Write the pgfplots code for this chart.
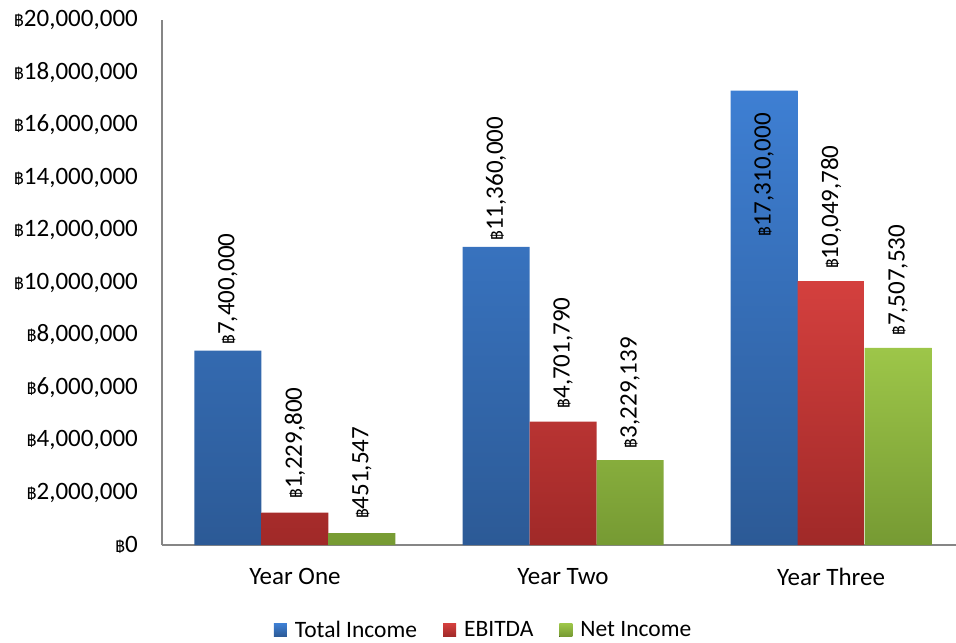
\documentclass[border=0pt]{standalone}
\usepackage{pgfplots}
\pgfplotsset{compat=1.18}
\usepackage{fontspec}
\setmainfont{Carlito}
\newfontfamily\thaifont[Script=Thai]{Loma}
\newcommand\baht{{\thaifont\fontsize{16bp}{16bp}\selectfont ฿}}
\newcommand\cf{\fontsize{25bp}{29bp}\selectfont}
\newcommand\lf{\fontsize{23.5bp}{28bp}\selectfont}
\definecolor{axgray}{HTML}{868686}
\definecolor{blueT}{HTML}{3E7FD3}
\definecolor{blueB}{HTML}{2C5A96}
\definecolor{redT}{HTML}{D4403E}
\definecolor{redB}{HTML}{A02928}
\definecolor{greenT}{HTML}{9DC649}
\definecolor{greenB}{HTML}{769A33}
\begin{document}
\begin{tikzpicture}
\useasboundingbox (-162bp,-98bp) rectangle (794bp,545bp);
\begin{axis}[
  at={(0,0)}, anchor=south west,
  scale only axis, width=794bp, height=525bp,
  xmin=-0.496, xmax=2.466, ymin=0, ymax=20000000,
  separate axis lines,
  axis x line*=bottom, axis y line*=left,
  axis line style={-, axgray, line width=1.5bp},
  major tick length=0pt,
  xtick={0,1,2}, xticklabels={Year One, Year Two, Year Three},
  ytick={0,2000000,4000000,6000000,8000000,10000000,12000000,14000000,16000000,18000000,20000000},
  yticklabels={{\baht0},{\baht2,000,000},{\baht4,000,000},{\baht6,000,000},{\baht8,000,000},{\baht10,000,000},{\baht12,000,000},{\baht14,000,000},{\baht16,000,000},{\baht18,000,000},{\baht20,000,000}},
  scaled y ticks=false,
  yticklabel style={font=\cf, inner sep=0pt, anchor=east, xshift=-24bp},
  xticklabel style={font=\cf, inner sep=0pt, anchor=north, yshift=-23bp},
  ybar=0pt, bar width=67bp,
  point meta=explicit symbolic,
  visualization depends on={value \thisrow{gap} \as \gap},
  nodes near coords={\hspace*{\gap bp}\baht\pgfplotspointmeta},
  every node near coord/.append style={font=\cf, rotate=90, anchor=west, inner sep=0pt},
  legend style={at={(0.405,-0.162)}, anchor=center, draw=none, fill=none,
    legend columns=3, font=\lf,
    /tikz/every even column/.append style={column sep=24bp},
    /tikz/every odd column/.append style={column sep=6bp}},
  legend image code/.code={\fill[#1] (0bp,-6.5bp) rectangle (13bp,6.5bp);},
]
\addplot[draw=none, top color=blueT, bottom color=blueB] table[x=x, y=y, meta=lab] {
x y lab gap
0 7400000 7,400,000 6
1 11360000 11,360,000 6
2 17310000 17,310,000 -170
};
\addplot[draw=none, top color=redT, bottom color=redB] table[x=x, y=y, meta=lab] {
x y lab gap
0 1229800 1,229,800 14
1 4701790 4,701,790 13
2 10049780 10,049,780 12
};
\addplot[draw=none, top color=greenT, bottom color=greenB] table[x=x, y=y, meta=lab] {
x y lab gap
0 451547 451,547 14
1 3229139 3,229,139 12
2 7507530 7,507,530 12
};
\legend{Total Income, EBITDA, Net Income}
\end{axis}
\end{tikzpicture}
\end{document}
